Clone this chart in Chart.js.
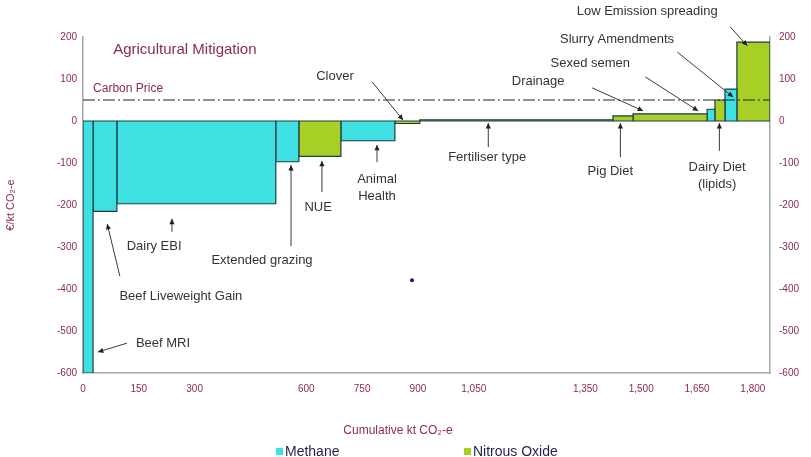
<!DOCTYPE html>
<html>
<head>
<meta charset="utf-8">
<script src="https://cdn.jsdelivr.net/npm/chart.js@4/dist/chart.umd.min.js"></script>
<style>
  html, body { margin: 0; padding: 0; background: #fff; }
  #wrap { width: 811px; height: 457px; }
</style>
</head>
<body>
<div id="wrap"><canvas id="macc"></canvas></div>
<script>
// measures, left to right along the curve
const measures = ['Beef MRI', 'Beef Liveweight Gain', 'Dairy EBI', 'Extended grazing', 'NUE',
  'Animal Health', 'Clover', 'Fertiliser type', 'Pig Diet', 'Drainage', 'Sexed semen',
  'Dairy Diet (lipids)', 'Slurry Amendments', 'Low Emission spreading'];
// bar widths, kt CO2-e
const abatement = [27, 64, 427, 62, 113, 145, 67, 519, 54, 199, 21, 27, 32, 89];
// bar heights, euro / kt CO2-e
const cost = [-600, -215, -197, -97, -84, -47, -6, 3, 12, 17, 28, 50, 76, 188];
const gas = ['Methane', 'Methane', 'Methane', 'Methane', 'Nitrous Oxide', 'Methane', 'Nitrous Oxide',
  'Nitrous Oxide', 'Nitrous Oxide', 'Nitrous Oxide', 'Methane', 'Nitrous Oxide', 'Methane', 'Nitrous Oxide'];
const carbonPrice = 50;
const strayPoint = [884, -379];

const xTickValues = [0, 150, 300, 450, 600, 750, 900, 1050, 1200, 1350, 1500, 1650, 1800];
const xTickLabels = ['0', '150', '300', '', '600', '750', '900', '1,050', '', '1,350', '1,500', '1,650', '1,800'];
const yMin = -600, yMax = 200, yStep = 100;

const gasColors = { 'Methane': '#3fe0e2', 'Nitrous Oxide': '#a7cf26' };
const maroon = '#8b2a52';
const FONT = '"Liberation Sans", Arial, sans-serif';

// callouts, positioned in data units
const notes = [
  { lines: ['Beef MRI'], at: [215, -529], from: [118, -529], to: [40, -550] },
  { lines: ['Beef Liveweight Gain'], at: [263, -417], from: [99, -369], to: [65, -245] },
  { lines: ['Dairy EBI'], at: [191, -298], from: [239, -264], to: [239, -233] },
  { lines: ['Extended grazing'], at: [481, -333], from: [559, -298], to: [559, -105] },
  { lines: ['NUE'], at: [632, -205], from: [642, -169], to: [642, -95] },
  { lines: ['Animal', 'Health'], at: [790, -138], from: [790, -98], to: [790, -57] },
  { lines: ['Clover'], at: [677, 107], from: [777, 93], to: [860, 2] },
  { lines: ['Fertiliser type'], at: [1086, -86], from: [1089, -62], to: [1089, -5] },
  { lines: ['Pig Diet'], at: [1417, -119], from: [1444, -86], to: [1444, -5] },
  { lines: ['Dairy Diet', '(lipids)'], at: [1704, -110], from: [1710, -71], to: [1710, -5] },
  { lines: ['Drainage'], at: [1223, 95], from: [1368, 79], to: [1505, 24] },
  { lines: ['Sexed semen'], at: [1363, 136], from: [1511, 105], to: [1653, 24] },
  { lines: ['Slurry Amendments'], at: [1435, 195], from: [1597, 164], to: [1747, 57] },
  { lines: ['Low Emission spreading'], at: [1516, 260], from: [1739, 224], to: [1785, 179] }
];

// one closed polygon per measure
const datasets = [];
let start = 0;
measures.forEach(function(name, i) {
  const end = start + abatement[i];
  datasets.push({
    label: name,
    data: [{ x: start, y: 0 }, { x: start, y: cost[i] }, { x: end, y: cost[i] }, { x: end, y: 0 }, { x: start, y: 0 }],
    backgroundColor: gasColors[gas[i]],
    borderColor: '#1d3d46',
    borderWidth: 1.2,
    fill: 'shape',
    pointRadius: 0,
    tension: 0,
    order: 2
  });
  start = end;
});
const xMax = start;

datasets.push({
  label: 'Carbon Price',
  data: [{ x: 0, y: carbonPrice }, { x: xMax, y: carbonPrice }],
  borderColor: '#222',
  borderWidth: 1,
  borderDash: [12, 3, 2, 3],
  fill: false,
  pointRadius: 0,
  order: 0
});
datasets.push({
  label: 'point',
  data: [{ x: strayPoint[0], y: strayPoint[1] }],
  showLine: false,
  pointRadius: 2,
  pointBackgroundColor: '#1a1f5a',
  pointBorderWidth: 0,
  order: 0
});

function arrowHead(ctx, x1, y1, x2, y2) {
  const a = Math.atan2(y2 - y1, x2 - x1);
  const s = 6;
  ctx.beginPath();
  ctx.moveTo(x2, y2);
  ctx.lineTo(x2 - s * Math.cos(a - 0.45), y2 - s * Math.sin(a - 0.45));
  ctx.lineTo(x2 - s * Math.cos(a + 0.45), y2 - s * Math.sin(a + 0.45));
  ctx.closePath();
  ctx.fill();
}

const calloutPlugin = {
  id: 'callouts',
  afterDatasetsDraw(chart) {
    const ctx = chart.ctx;
    const xs = chart.scales.x, ys = chart.scales.y;
    const px = v => xs.getPixelForValue(v);
    const py = v => ys.getPixelForValue(v);
    ctx.save();

    ctx.fillStyle = maroon;
    ctx.textBaseline = 'middle';
    ctx.textAlign = 'left';
    ctx.font = '15px ' + FONT;
    ctx.fillText('Agricultural Mitigation', px(81), py(169));
    ctx.font = '12px ' + FONT;
    ctx.fillText('Carbon Price', px(27), py(76));

    // x axis title, set left of centre as in the source
    ctx.textAlign = 'center';
    ctx.fillText('Cumulative kt CO₂-e', 398, 431);

    ctx.font = '13px ' + FONT;
    notes.forEach(function(n) {
      ctx.strokeStyle = '#3a3a3a';
      ctx.fillStyle = '#222';
      ctx.lineWidth = 1;
      const x1 = px(n.from[0]), y1 = py(n.from[1]), x2 = px(n.to[0]), y2 = py(n.to[1]);
      ctx.beginPath();
      ctx.moveTo(x1, y1);
      ctx.lineTo(x2, y2);
      ctx.stroke();
      arrowHead(ctx, x1, y1, x2, y2);
      ctx.fillStyle = '#333';
      n.lines.forEach(function(t, k) {
        ctx.fillText(t, px(n.at[0]), py(n.at[1]) + k * 17);
      });
    });

    // legend
    ctx.font = '14px ' + FONT;
    ctx.textAlign = 'left';
    const items = [['Methane', 276], ['Nitrous Oxide', 464]];
    items.forEach(function(it) {
      ctx.fillStyle = gasColors[it[0]];
      ctx.fillRect(it[1], 448, 7, 7);
      ctx.fillStyle = '#1e2250';
      ctx.fillText(it[0], it[1] + 9, 452);
    });
    ctx.restore();
  }
};

const yAxis = function(pos, width) {
  return {
    type: 'linear',
    position: pos,
    min: yMin, max: yMax,
    grid: { display: false, drawTicks: false },
    border: { display: true, color: '#a8a8a8', width: 1.5 },
    ticks: { stepSize: yStep, color: maroon, padding: pos === 'left' ? 6 : 9, font: { family: FONT, size: 10 } },
    afterFit: function(axis) { axis.width = width; }
  };
};

const leftY = yAxis('left', 83);
leftY.title = { display: true, text: '€/kt CO₂-e', color: maroon, font: { family: FONT, size: 11 }, padding: 4 };
const rightY = yAxis('right', 41);

new Chart(document.getElementById('macc'), {
  type: 'line',
  data: { datasets: datasets },
  options: {
    responsive: true,
    maintainAspectRatio: false,
    animation: false,
    layout: { padding: { top: 37, left: 0, right: 0, bottom: 0 } },
    plugins: { legend: { display: false }, tooltip: { enabled: false } },
    scales: {
      x: {
        type: 'linear',
        min: 0, max: xMax,
        grid: { display: false, drawTicks: false },
        border: { display: true, color: '#a8a8a8', width: 1.5 },
        afterBuildTicks: function(axis) { axis.ticks = xTickValues.map(v => ({ value: v })); },
        ticks: {
          autoSkip: false, maxRotation: 0, padding: 10, color: maroon,
          font: { family: FONT, size: 10 },
          callback: function(v) { const i = xTickValues.indexOf(v); return i < 0 ? '' : xTickLabels[i]; }
        },
        afterFit: function(axis) { axis.height = 84; }
      },
      y: leftY,
      y2: rightY
    }
  },
  plugins: [calloutPlugin]
});
</script>
</body>
</html>
